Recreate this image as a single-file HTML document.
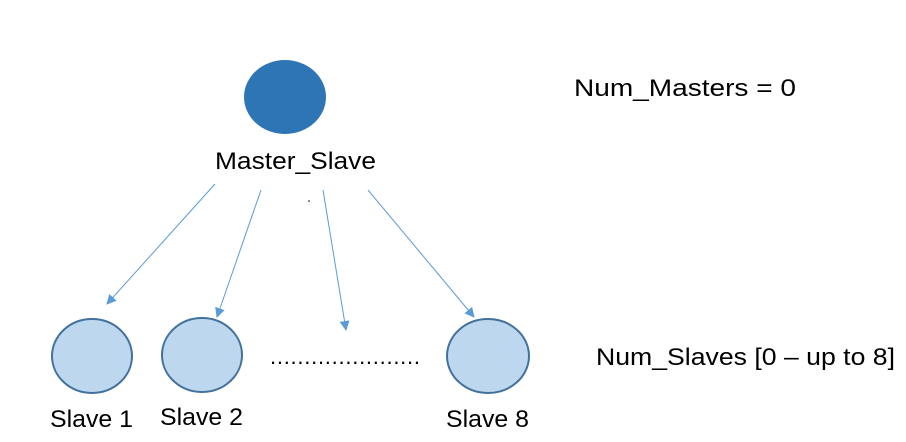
<!DOCTYPE html>
<html><head><meta charset="utf-8"><style>html,body{margin:0;padding:0;background:#fff}svg{display:block}</style></head>
<body>
<svg width="906" height="442" viewBox="0 0 906 442" xmlns="http://www.w3.org/2000/svg" font-family="Liberation Sans, sans-serif" font-size="24" fill="#000">
<defs><marker id="a" markerWidth="10" markerHeight="10" refX="9" refY="5" orient="auto" markerUnits="userSpaceOnUse"><path d="M0,0 L10,5 L0,10 z" fill="#5b9bd5"/></marker></defs>
<ellipse cx="285" cy="97" rx="41" ry="37" fill="#2e75b6"/>
<text x="215" y="169" textLength="161" lengthAdjust="spacingAndGlyphs">Master_Slave</text>
<g stroke="#5b9bd5" stroke-width="1" fill="none">
<line x1="215" y1="184" x2="107" y2="304" marker-end="url(#a)"/>
<line x1="261" y1="190" x2="217" y2="317" marker-end="url(#a)"/>
<line x1="323" y1="190" x2="346" y2="330" marker-end="url(#a)"/>
<line x1="368" y1="190" x2="474" y2="317" marker-end="url(#a)"/>
</g>
<circle cx="309" cy="201" r="0.8" fill="#000"/>
<g fill="#bdd7ee" stroke="#41719c" stroke-width="2">
<ellipse cx="92" cy="356" rx="40" ry="37"/>
<ellipse cx="202" cy="355" rx="40" ry="37"/>
<ellipse cx="488" cy="356" rx="41" ry="37"/>
</g>
<text x="270" y="364" font-size="22" textLength="150" lengthAdjust="spacing">......................</text>
<text x="50" y="427" textLength="83" lengthAdjust="spacingAndGlyphs">Slave 1</text>
<text x="160" y="425" textLength="83" lengthAdjust="spacingAndGlyphs">Slave 2</text>
<text x="446" y="427" textLength="83" lengthAdjust="spacingAndGlyphs">Slave 8</text>
<text x="574" y="96" textLength="222" lengthAdjust="spacingAndGlyphs">Num_Masters  = 0</text>
<text x="596" y="365" textLength="299" lengthAdjust="spacingAndGlyphs">Num_Slaves [0 – up to 8]</text>
</svg>
</body></html>
